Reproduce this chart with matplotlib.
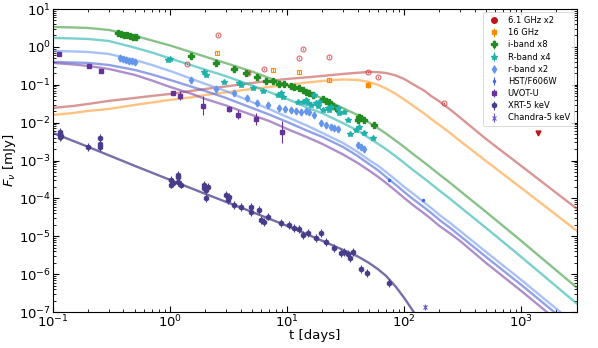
import numpy as np
import matplotlib
matplotlib.use("Agg")
import matplotlib.pyplot as plt

# ---- model curves: t in days, log10 of F in mJy ----
t_mod = [0.1, 0.15, 0.2, 0.3, 0.5, 0.7, 1, 1.5, 2, 3, 5, 7, 10, 15, 20, 30, 40, 50, 60, 70,
         85, 100, 120, 150, 170, 200, 250, 300, 500, 1000, 3000]
logf_radio6_mod = [-1.612, -1.559, -1.506, -1.427, -1.348, -1.295, -1.243, -1.164, -1.111, -1.045,
                   -0.953, -0.900, -0.847, -0.802, -0.768, -0.715, -0.683, -0.662, -0.668, -0.689,
                   -0.755, -0.847, -0.992, -1.164, -1.296, -1.441, -1.665, -1.863, -2.430, -3.142,
                   -4.277]
logf_radio16_mod = [-1.797, -1.744, -1.691, -1.639, -1.533, -1.467, -1.401, -1.335, -1.269, -1.203,
                    -1.111, -1.058, -1.005, -0.939, -0.900, -0.860, -0.873, -0.926, -1.005, -1.098,
                    -1.243, -1.388, -1.559, -1.770, -1.902, -2.061, -2.285, -2.483, -3.011, -3.723,
                    -4.858]
logf_i_mod = [0.525, 0.512, 0.499, 0.446, 0.296, 0.169, 0.037, -0.135, -0.259, -0.430, -0.649,
              -0.821, -1.005, -1.211, -1.356, -1.617, -1.799, -1.995, -2.150, -2.288, -2.480,
              -2.641, -2.836, -3.063, -3.195, -3.369, -3.602, -3.802, -4.356, -5.121, -6.361]
logf_R_mod = [0.235, 0.222, 0.208, 0.156, -0.021, -0.148, -0.306, -0.478, -0.602, -0.773, -1.018,
              -1.190, -1.375, -1.607, -1.752, -2.013, -2.208, -2.404, -2.562, -2.699, -2.892,
              -3.063, -3.259, -3.485, -3.617, -3.792, -4.024, -4.224, -4.778, -5.544, -6.784]
logf_r_mod = [-0.108, -0.121, -0.135, -0.187, -0.346, -0.478, -0.636, -0.834, -0.979, -1.164,
              -1.454, -1.639, -1.850, -2.087, -2.272, -2.536, -2.773, -2.984, -3.142, -3.301,
              -3.512, -3.697, -3.881, -4.119, -4.251, -4.435, -4.660, -4.858, -5.412, -6.150,
              -7.364]
logf_hst_mod = [-0.398, -0.412, -0.425, -0.478, -0.609, -0.728, -0.873, -1.044, -1.164, -1.348,
                -1.612, -1.784, -1.982, -2.219, -2.377, -2.641, -2.879, -3.090, -3.261, -3.433,
                -3.644, -3.829, -4.026, -4.251, -4.383, -4.567, -4.792, -4.989, -5.544, -6.282,
                -7.496]
logf_uvot_mod = [-0.425, -0.464, -0.504, -0.583, -0.741, -0.887, -1.058, -1.230, -1.375, -1.546,
                 -1.797, -1.955, -2.166, -2.391, -2.562, -2.839, -3.063, -3.261, -3.433, -3.591,
                 -3.802, -3.987, -4.185, -4.409, -4.541, -4.726, -4.937, -5.121, -5.702, -6.441,
                 -7.655]

t_xray_mod = [0.1, 0.2, 0.5, 1, 2, 5, 10, 20, 30, 40, 50, 60, 70, 85, 100, 115, 130]
logf_xray_mod = [-2.272, -2.641, -3.142, -3.512, -3.881, -4.356, -4.726, -5.121, -5.359, -5.530,
                 -5.702, -5.873, -6.045, -6.335, -6.625, -6.902, -7.153]

# ---- data points (t in days, F in mJy) ----
t_61 = [1.39, 2.56, 4.62, 6.35, 12.7, 13.7, 23.0, 49.5, 60.4, 218]
f_61 = [0.354, 2.06, 0.205, 0.261, 0.51, 0.88, 0.54, 0.218, 0.161, 0.033]
t_61_lim = [1400]
f_61_lim = [5.4e-3]

t_16_open = [2.51, 7.6, 12.7, 23.0]
f_16_open = [0.69, 0.246, 0.218, 0.134]
t_16 = [49.5]
f_16 = [0.099]

t_i = [0.361, 0.384, 0.407, 0.432, 0.458, 0.486, 0.515, 1.50, 2.46, 3.51, 4.45, 5.52, 6.6, 7.6,
       8.5, 9.4, 10.8, 11.5, 12.7, 13.7, 14.5, 15.4, 16.7, 20.4, 21.6, 23.0, 24.8, 26.4, 40.6,
       43.2, 41.5, 45.8, 55.8]
f_i = [2.33, 2.19, 2.06, 2.00, 1.94, 1.82, 1.77, 0.575, 0.376, 0.261, 0.205, 0.161, 0.126, 0.126,
       0.105, 0.105, 0.093, 0.087, 0.082, 0.073, 0.065, 0.061, 0.054, 0.042, 0.037, 0.035, 0.0276,
       0.0244, 0.0118, 0.0133, 0.0141, 0.0118, 0.0087]

t_R = [0.953, 0.99, 1.94, 2.02, 2.88, 3.87, 4.03, 5.1, 6.2, 8.4, 8.9, 9.2, 12.4, 13.7, 14.5, 15.1,
       16.1, 17.1, 17.7, 18.5, 18.8, 20.4, 22.5, 23.0, 23.9, 27.4, 27.9, 30.8, 33.4, 34.8, 39.1,
       41.5, 45.8, 54.7]
f_R = [0.451, 0.48, 0.218, 0.182, 0.119, 0.111, 0.099, 0.082, 0.069, 0.054, 0.061, 0.048, 0.035,
       0.035, 0.040, 0.033, 0.029, 0.054, 0.033, 0.0276, 0.035, 0.0216, 0.0244, 0.0216, 0.026,
       0.0244, 0.018, 0.0191, 0.0118, 5.0e-3, 6.4e-3, 7.7e-3, 5.4e-3, 4.0e-3]

t_r = [0.376, 0.399, 0.424, 0.449, 0.476, 0.506, 1.50, 2.46, 3.51, 4.54, 5.52, 6.87, 8.5, 9.6,
       10.8, 11.9, 13.2, 14.5, 15.4, 17.1, 19.6, 21.6, 23.9, 25.3, 27.4, 40.6, 43.2, 45.8]
f_r = [0.51, 0.48, 0.451, 0.425, 0.412, 0.40, 0.134, 0.077, 0.061, 0.045, 0.033, 0.029, 0.0244,
       0.023, 0.0216, 0.0204, 0.0191, 0.0204, 0.0191, 0.016, 9.8e-3, 8.7e-3, 7.7e-3, 7.2e-3,
       6.8e-3, 2.58e-3, 2.29e-3, 2.0e-3]

t_hst = [73.6, 144]
f_hst = [3.1e-4, 9.1e-5]

t_uvot = [0.113, 0.204, 0.258, 1.07, 1.21, 1.90, 3.18, 3.79, 5.42, 9.06]
f_uvot = [0.65, 0.313, 0.231, 0.061, 0.051, 0.0276, 0.023, 0.016, 0.0125, 5.7e-3]
dex_uvot = [0.04, 0.04, 0.04, 0.05, 0.12, 0.25, 0.08, 0.12, 0.15, 0.3]

t_xrt = [0.115, 0.115, 0.117, 0.115, 0.20, 0.253, 0.253, 0.253, 1.01, 1.01, 1.07, 1.16, 1.18, 1.18,
         1.23, 1.94, 1.94, 2.02, 2.02, 2.10, 2.99, 3.12, 3.18, 3.51, 4.03, 4.91, 4.91, 5.75, 5.98,
         6.35, 6.87, 8.87, 10.4, 11.5, 12.7, 13.7, 15.1, 17.7, 19.6, 21.6, 25.3, 29.1, 30.8, 33.4,
         34.8, 36.9, 42.4, 48.6, 73.6]
f_xrt = [5.7e-3, 5.0e-3, 4.5e-3, 4.2e-3, 2.3e-3, 3.9e-3, 2.7e-3, 2.3e-3, 3.1e-4, 2.3e-4, 2.6e-4,
         3.7e-4, 4.2e-4, 2.7e-4, 2.3e-4, 2.3e-4, 1.9e-4, 1.7e-4, 1.03e-4, 2.0e-4, 1.24e-4, 9.1e-5,
         1.1e-4, 6.7e-5, 6.0e-5, 4.4e-5, 6.0e-5, 5.0e-5, 2.7e-5, 2.4e-5, 3.3e-5, 2.26e-5, 2.0e-5,
         1.67e-5, 1.57e-5, 1.09e-5, 1.23e-5, 9.1e-6, 1.23e-5, 7.1e-6, 4.9e-6, 3.6e-6, 3.9e-6,
         3.4e-6, 2.7e-6, 3.9e-6, 1.38e-6, 1.08e-6, 5.9e-7]

t_chandra = [150]
f_chandra = [1.37e-7]


def err(f, d):
    f = np.asarray(f, dtype=float)
    d = np.asarray(d, dtype=float)
    return [f * (1 - 10 ** -d), f * (10 ** d - 1)]


fig = plt.figure(figsize=(5.98, 3.48), dpi=100)
ax = fig.add_axes([53 / 598, 36 / 348, 524 / 598, 303 / 348])

lw = 1.7
al = 0.6
ax.plot(t_mod, 10 ** np.array(logf_radio6_mod), color='#c0504d', lw=lw, alpha=al)
ax.plot(t_mod, 10 ** np.array(logf_radio16_mod), color='#ff9a2e', lw=lw, alpha=al)
ax.plot(t_mod, 10 ** np.array(logf_i_mod), color='#3a9a3a', lw=lw, alpha=al)
ax.plot(t_mod, 10 ** np.array(logf_R_mod), color='#20b2aa', lw=lw, alpha=al)
ax.plot(t_mod, 10 ** np.array(logf_r_mod), color='#6d9af0', lw=lw, alpha=al)
ax.plot(t_mod, 10 ** np.array(logf_hst_mod), color='#4a62d8', lw=lw, alpha=al)
ax.plot(t_mod, 10 ** np.array(logf_uvot_mod), color='#7a45a8', lw=lw, alpha=al)
ax.plot(t_xray_mod, 10 ** np.array(logf_xray_mod), color='#483d8b', lw=lw, alpha=0.75)

ekw = dict(ls='none', elinewidth=0.8, capsize=0)

# 6.1 GHz
ax.errorbar(t_61, f_61, yerr=err(f_61, 0.03), fmt='o', ms=3.5, mfc='none', mec='#d62728',
            ecolor='#d62728', mew=0.8, alpha=0.7, **ekw)
ax.errorbar([], [], fmt='o', ms=4, color='#c0141b', label='6.1 GHz x2', **ekw)
ax.plot(t_61_lim, f_61_lim, 'v', ms=3.5, color='#c0141b')

# 16 GHz
ax.errorbar(t_16_open, f_16_open, yerr=err(f_16_open, 0.05), fmt='s', ms=3.5, mfc='none',
            mec='#ff8c00', ecolor='#ff8c00', mew=0.8, **ekw)
ax.errorbar(t_16, f_16, yerr=err(f_16, 0.07), fmt='s', ms=3.5, color='#ff8c00',
            label='16 GHz', **ekw)

ax.errorbar(t_i, f_i, yerr=err(f_i, 0.03), fmt='P', ms=3.8, color='#228b22', label='i-band x8', **ekw)
ax.errorbar(t_R, f_R, yerr=err(f_R, 0.05), fmt='*', ms=4, color='#20b2aa', label='R-band x4', **ekw)
ax.errorbar(t_r, f_r, yerr=err(f_r, 0.05), fmt='d', ms=3.5, color='#6495ed', label='r-band x2', **ekw)
ax.errorbar(t_hst, f_hst, yerr=err(f_hst, 0.03), fmt='.', ms=3, color='#4169e1', label='HST/F606W', **ekw)
ax.errorbar(t_uvot, f_uvot, yerr=err(f_uvot, dex_uvot), fmt='s', ms=3.2, color='#663399',
            label='UVOT-U', **ekw)
ax.errorbar(t_xrt, f_xrt, yerr=err(f_xrt, 0.1), fmt='h', ms=3.3, color='#483d8b',
            label='XRT-5 keV', **ekw)
ax.errorbar(t_chandra, f_chandra, yerr=err(f_chandra, 0.08), fmt='x', ms=3.5, mew=0.8,
            color='#6a5acd', label='Chandra-5 keV', **ekw)

ax.set_xscale('log')
ax.set_yscale('log')
ax.set_xlim(0.1, 3000)
ax.set_ylim(1e-7, 10)
ax.set_xlabel('t [days]', fontsize=9.5)
ax.set_ylabel(r'$F_\nu$ [mJy]', fontsize=9.5)
ax.xaxis.set_label_coords(0.5, -0.055)
ax.yaxis.set_label_coords(-0.066, 0.5)
ax.tick_params(which='both', direction='in', top=True, right=True, labelsize=9.5)
ax.tick_params(which='major', length=4, width=0.8, pad=1.5)
ax.tick_params(which='minor', length=2, width=0.6)
for s in ax.spines.values():
    s.set_linewidth(0.8)

leg = ax.legend(loc='upper right', fontsize=6, labelspacing=0.38, handletextpad=0.7,
                handlelength=1.8, borderpad=0.45, frameon=True, fancybox=True, borderaxespad=0.4)
leg.get_frame().set_edgecolor('#cccccc')
leg.get_frame().set_linewidth(0.6)

fig.savefig('out.png', dpi=100)
